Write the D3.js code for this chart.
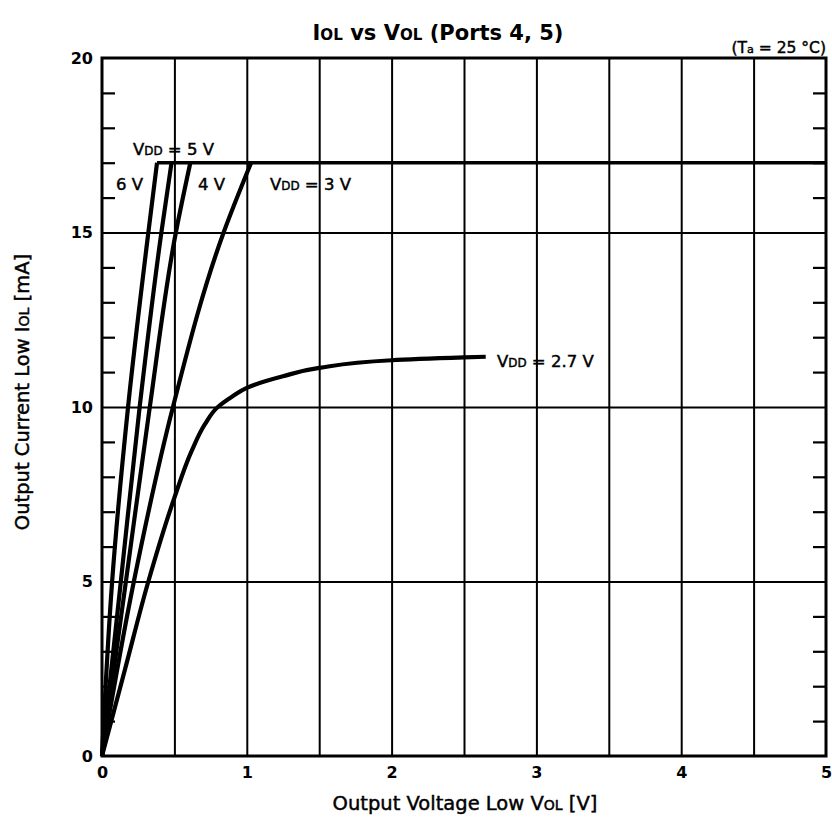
<!DOCTYPE html>
<html>
<head>
<meta charset="utf-8">
<script src="https://cdn.jsdelivr.net/npm/d3@7"></script>
<style>
html,body{margin:0;padding:0;background:#fff;}
svg{display:block;}
text{font-family:"DejaVu Sans","Liberation Sans",sans-serif;fill:#000;}
</style>
</head>
<body>
<svg id="chart" width="832" height="820"></svg>
<script>
// ---- data ----
const xTicks = [0, 1, 2, 3, 4, 5];
const yTicks = [0, 5, 10, 15, 20];
const xGrid = [0.5, 1, 1.5, 2, 2.5, 3, 3.5, 4, 4.5];
const yGrid = [5, 10, 15];
const yMinor = [1,2,3,4,6,7,8,9,11,12,13,14,16,17,18,19];

const vdd6V = [[0,0],[0.07,5],[0.18,10],[0.32,15],[0.38,17]];
const vdd5V = [[0,0],[0.13,5],[0.26,10],[0.41,15],[0.48,17]];
const vdd4V = [[0,0],[0.165,5],[0.33,10],[0.51,15],[0.61,17]];
const vdd3V = [[0,0],[0.22,5],[0.49,10],[0.84,15],[1.03,17]];
const vdd27V = [[0,0],[0.16,2.5],[0.32,5.0],[0.50,7.4],[0.62,8.75],[0.71,9.5],
                [0.80,10.0],[0.90,10.3],[1.0,10.55],[1.25,10.88],[1.5,11.12],[2.0,11.34],
                [2.5,11.42],[2.65,11.44]];
const limitLine = [[0.38,17],[5,17]];

// ---- layout ----
const svg = d3.select("#chart");
const L = 102, R = 826, T = 58, B = 756;
const x = d3.scaleLinear().domain([0,5]).range([L,R]);
const y = d3.scaleLinear().domain([0,20]).range([B,T]);

// gridlines
svg.append("g").attr("transform",`translate(0,${B})`)
  .call(d3.axisBottom(x).tickValues(xGrid).tickSize(-(B-T)).tickFormat(""))
  .call(g=>g.select(".domain").remove())
  .call(g=>g.selectAll("line").attr("stroke","#000").attr("stroke-width",2));
svg.append("g").attr("transform",`translate(${L},0)`)
  .call(d3.axisLeft(y).tickValues(yGrid).tickSize(-(R-L)).tickFormat(""))
  .call(g=>g.select(".domain").remove())
  .call(g=>g.selectAll("line").attr("stroke","#000").attr("stroke-width",2));

// minor ticks left and right (inward)
svg.append("g").attr("transform",`translate(${L},0)`)
  .call(d3.axisLeft(y).tickValues(yMinor).tickSize(-13).tickFormat(""))
  .call(g=>g.select(".domain").remove())
  .call(g=>g.selectAll("line").attr("stroke","#000").attr("stroke-width",2.2));
svg.append("g").attr("transform",`translate(${R},0)`)
  .call(d3.axisRight(y).tickValues(yMinor).tickSize(-13).tickFormat(""))
  .call(g=>g.select(".domain").remove())
  .call(g=>g.selectAll("line").attr("stroke","#000").attr("stroke-width",2.2));

// frame
svg.append("rect").attr("x",L).attr("y",T).attr("width",R-L).attr("height",B-T)
  .attr("fill","none").attr("stroke","#000").attr("stroke-width",3);

// tick labels
svg.append("g").attr("transform",`translate(0,${B})`)
  .call(d3.axisBottom(x).tickValues(xTicks).tickSize(0).tickPadding(11).tickFormat(d3.format("d")))
  .call(g=>g.select(".domain").remove())
  .call(g=>g.selectAll("text").attr("font-size",16).attr("font-weight","bold")
     .attr("font-family","DejaVu Sans"));
svg.append("g").attr("transform",`translate(${L},0)`)
  .call(d3.axisLeft(y).tickValues(yTicks).tickSize(0).tickPadding(9).tickFormat(d3.format("d")))
  .call(g=>g.select(".domain").remove())
  .call(g=>g.selectAll("text").attr("font-size",16).attr("font-weight","bold")
     .attr("font-family","DejaVu Sans"));

// curves
const lineY = d3.line().x(d=>x(d[0])).y(d=>y(d[1])).curve(d3.curveMonotoneY);
const lineStraight = d3.line().x(d=>x(d[0])).y(d=>y(d[1]));
[vdd6V, vdd5V, vdd4V, vdd3V, vdd27V].forEach(s=>{
  svg.append("path").datum(s).attr("d",lineY).attr("fill","none")
    .attr("stroke","#000").attr("stroke-width",4.2).attr("stroke-linejoin","round");
});
svg.append("path").datum(limitLine).attr("d",lineStraight).attr("fill","none")
  .attr("stroke","#000").attr("stroke-width",3.5);

// helper for text with small-cap style subscript
function label(px, py, parts, size, anchor, weight){
  const t = svg.append("text").attr("x",px).attr("y",py).attr("font-size",size)
    .attr("text-anchor",anchor||"start").attr("font-weight",weight||"normal");
  if(!weight) t.attr("stroke","#000").attr("stroke-width",0.45);
  parts.forEach(p=>{
    const s = t.append("tspan").text(p[0]);
    if(p[1]) s.attr("font-size",size*0.72);
  });
  return t;
}

// curve labels
label(133,155,[["V"],["DD",1],[" = 5 V"]],16.5);
label(116,190,[["6 V"]],16.5);
label(198,190,[["4 V"]],16.5);
label(270,190,[["V"],["DD",1],[" = 3 V"]],16.5);
label(497,367,[["V"],["DD",1],[" = 2.7 V"]],16.5);

// title & notes
label(438,40,[["I"],["OL",1],[" vs V"],["OL",1],[" (Ports 4, 5)"]],21,"middle","bold");
label(826,53,[["(T"],["a",1],[" = 25 °C)"]],15.5,"end");

// axis titles
label(465,810,[["Output Voltage Low V"],["OL",1],[" [V]"]],19.5,"middle");
label(0,0,[["Output Current Low I"],["OL",1],[" [mA]"]],19.5,"middle")
  .attr("transform","translate(29,392) rotate(-90)");
</script>
</body>
</html>
